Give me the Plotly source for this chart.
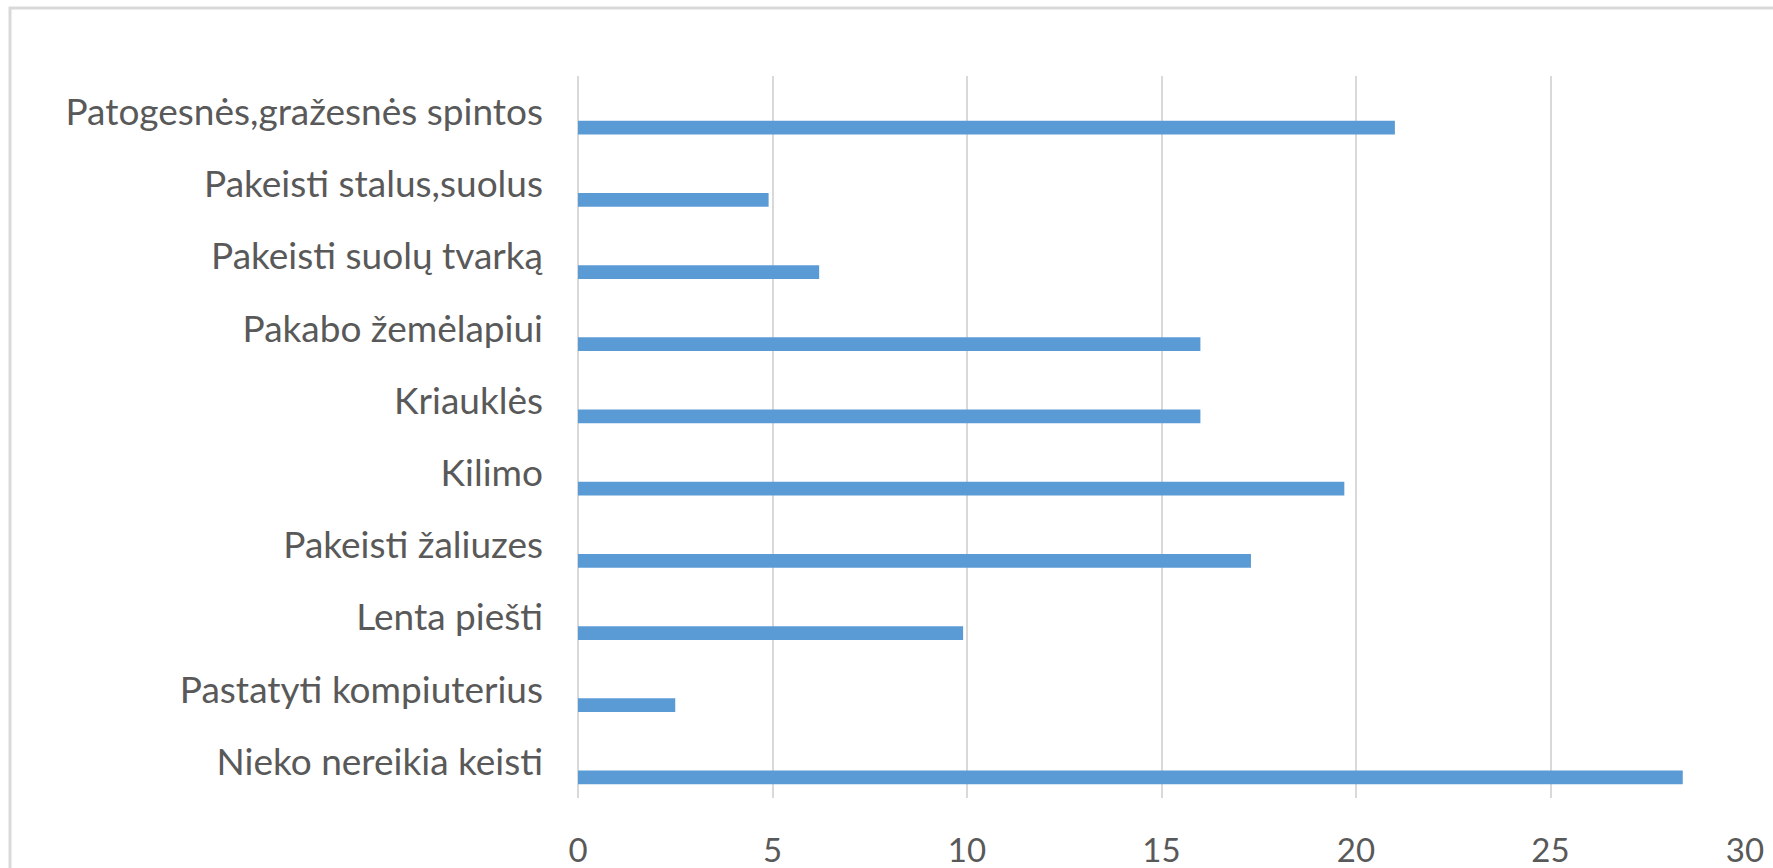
import plotly.graph_objects as go

# Categories listed bottom-to-top (as plotted on the category axis)
categories = [
    "Nieko nereikia keisti",
    "Pastatyti kompiuterius",
    "Lenta piešti",
    "Pakeisti žaliuzes",
    "Kilimo",
    "Kriauklės",
    "Pakabo žemėlapiui",
    "Pakeisti suolų tvarką",
    "Pakeisti stalus,suolus",
    "Patogesnės,gražesnės spintos",
]
values = [28.4, 2.5, 9.9, 17.3, 19.7, 16.0, 16.0, 6.2, 4.9, 21.0]
x_ticks = [0, 5, 10, 15, 20, 25, 30]

W, H = 1773, 868
L, R, T, B = 578, 28, 76, 70
pw, ph = W - L - R, H - T - B

text_color = "#595959"
grid_color = "#d9d9d9"
font_family = "Lato, Calibri, Carlito, sans-serif"

fig = go.Figure()
fig.add_trace(go.Bar(
    y=categories,
    x=values,
    orientation="h",
    marker=dict(color="#5b9bd5", line=dict(width=0)),
    width=0.19,
    offset=-0.31,
    hoverinfo="x+y",
))

def px_to_paper_x(px):
    return (px - L) / pw

def px_to_paper_y(py):
    return (H - B - py) / ph

fig.add_shape(
    type="rect", xref="paper", yref="paper",
    x0=px_to_paper_x(10), x1=px_to_paper_x(1800),
    y0=px_to_paper_y(900), y1=px_to_paper_y(8),
    line=dict(color=grid_color, width=3),
    fillcolor="rgba(0,0,0,0)", layer="below",
)

fig.update_layout(
    width=W, height=H,
    margin=dict(l=L, r=R, t=T, b=B, pad=0, autoexpand=False),
    paper_bgcolor="white",
    plot_bgcolor="white",
    showlegend=False,
    font=dict(family=font_family, color=text_color, size=37),
    xaxis=dict(
        range=[0, 30],
        tickvals=x_ticks,
        ticktext=[str(v) for v in x_ticks],
        showgrid=True, gridcolor=grid_color, gridwidth=2,
        zeroline=True, zerolinecolor=grid_color, zerolinewidth=2,
        showline=False, ticks="",
        ticklabelstandoff=30,
        tickfont=dict(size=33, color=text_color),
        automargin=False,
        fixedrange=True,
    ),
    yaxis=dict(
        type="category",
        categoryorder="array", categoryarray=categories,
        range=[-0.5, len(categories) - 0.5],
        showgrid=False, showline=False, ticks="",
        ticklabelstandoff=34,
        tickfont=dict(size=37, color=text_color),
        automargin=False,
        fixedrange=True,
    ),
)

fig.write_html(
    "out.html",
    config={"displayModeBar": False},
    post_script="document.body.style.margin='0';document.body.style.overflow='hidden';",
)
